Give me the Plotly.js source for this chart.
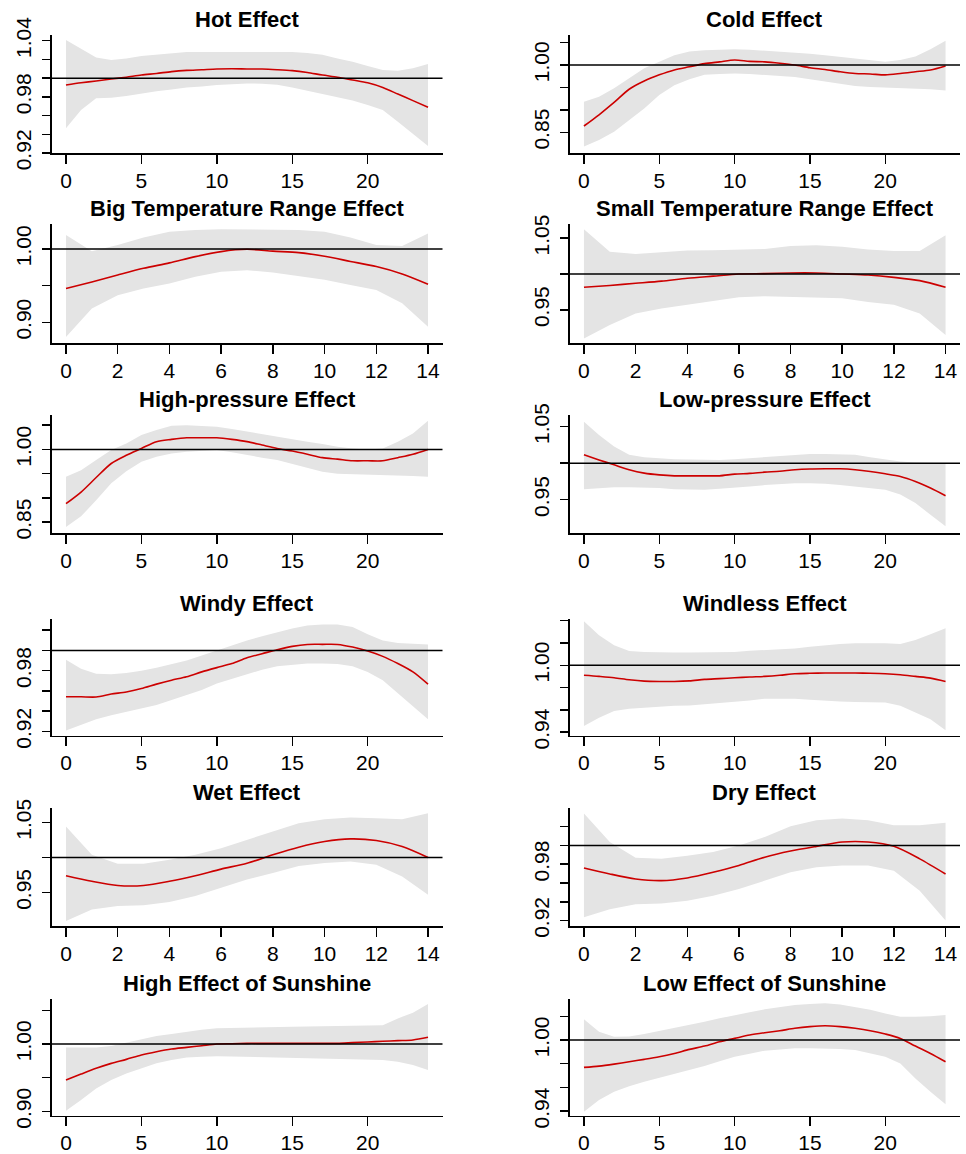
<!DOCTYPE html>
<html>
<head>
<meta charset="utf-8">
<script src="https://cdn.plot.ly/plotly-3.0.1.min.js"></script>
<style>html,body{margin:0;padding:0;background:#fff;}#chart{width:966px;height:1154px;}</style>
</head>
<body>
<div id="chart"></div>
<script>
// ---------------- data ----------------
const lagLong = [0,1,2,3,4,5,6,7,8,9,10,11,12,13,14,15,16,17,18,19,20,21,22,23,24];
const lagShort = [0,1,2,3,4,5,6,7,8,9,10,11,12,13,14];
const xTicksLong = [0,5,10,15,20];
const xTicksShort = [0,2,4,6,8,10,12,14];

const titles = ["Hot Effect","Cold Effect","Big Temperature Range Effect","Small Temperature Range Effect",
  "High-pressure Effect","Low-pressure Effect","Windy Effect","Windless Effect",
  "Wet Effect","Dry Effect","High Effect of Sunshine","Low Effect of Sunshine"];

// Hot
const hotFit  = [0.9927,0.995,0.997,0.999,1.001,1.0033,1.005,1.007,1.0083,1.009,1.0098,1.0100,1.0098,1.0097,1.009,1.008,1.006,1.0033,1.001,0.998,0.995,0.990,0.983,0.976,0.969];
const hotHigh = [1.0408,1.031,1.022,1.0195,1.021,1.0236,1.025,1.027,1.028,1.028,1.028,1.028,1.028,1.028,1.028,1.028,1.027,1.025,1.021,1.0176,1.013,1.0087,1.008,1.0105,1.015];
const hotLow  = [0.9465,0.966,0.9785,0.979,0.981,0.9838,0.986,0.988,0.990,0.991,0.9927,0.9935,0.9944,0.994,0.993,0.990,0.9867,0.983,0.980,0.976,0.9713,0.966,0.9535,0.941,0.9275];
// Cold
const coldFit  = [0.864,0.889,0.9165,0.946,0.9643,0.978,0.989,0.996,1.003,1.007,1.011,1.008,1.007,1.004,1.000,0.994,0.990,0.985,0.981,0.980,0.978,0.981,0.985,0.989,0.998];
const coldHigh = [0.918,0.929,0.948,0.970,0.993,1.007,1.022,1.030,1.033,1.034,1.035,1.034,1.032,1.030,1.027,1.025,1.022,1.018,1.015,1.010,1.007,1.011,1.019,1.035,1.054];
const coldLow  = [0.818,0.833,0.851,0.877,0.903,0.933,0.955,0.968,0.978,0.980,0.981,0.980,0.978,0.976,0.973,0.968,0.963,0.958,0.953,0.951,0.950,0.949,0.948,0.946,0.943];
// Big temperature range
const bigFit  = [0.946,0.955,0.9645,0.9736,0.981,0.9895,0.9964,0.9995,0.997,0.995,0.990,0.983,0.976,0.966,0.952];
const bigHigh = [1.019,0.997,1.0055,1.0155,1.0236,1.026,1.027,1.027,1.027,1.026,1.0236,1.0155,1.0055,1.004,1.021];
const bigLow  = [0.880,0.919,0.937,0.946,0.953,0.962,0.969,0.971,0.968,0.963,0.958,0.951,0.944,0.926,0.894];
// Small temperature range
const smallFit  = [0.9814,0.984,0.987,0.990,0.994,0.997,1.0,1.0005,1.0014,1.0014,1.0,0.9985,0.9953,0.9907,0.9814];
const smallHigh = [1.0623,1.031,1.028,1.030,1.0326,1.033,1.0335,1.035,1.039,1.040,1.038,1.034,1.032,1.032,1.054];
const smallLow  = [0.910,0.929,0.945,0.952,0.957,0.962,0.9674,0.969,0.968,0.967,0.966,0.961,0.957,0.945,0.915];
// High pressure
const hpFit  = [0.888,0.912,0.942,0.971,0.988,1.002,1.016,1.0207,1.024,1.024,1.024,1.0207,1.016,1.009,1.002,0.9966,0.990,0.983,0.980,0.9766,0.9766,0.9766,0.983,0.990,1.0];
const hpHigh = [0.9434,0.957,0.978,0.9986,1.0124,1.0297,1.040,1.049,1.050,1.049,1.047,1.042,1.0366,1.031,1.026,1.021,1.016,1.011,1.0055,1.002,1.0,1.002,1.016,1.033,1.059];
const hpLow  = [0.840,0.862,0.895,0.930,0.955,0.9745,0.985,0.9917,0.995,0.997,0.9986,0.994,0.988,0.983,0.978,0.970,0.9628,0.9538,0.950,0.949,0.949,0.948,0.947,0.945,0.9434];
// Low pressure
const lpFit  = [1.0114,1.0045,0.9977,0.991,0.9864,0.984,0.9827,0.9827,0.9827,0.9827,0.985,0.986,0.9877,0.989,0.991,0.992,0.9923,0.9923,0.991,0.9886,0.9855,0.9818,0.975,0.966,0.9555];
const lpHigh = [1.0568,1.0386,1.0227,1.0114,1.008,1.0065,1.0055,1.005,1.0045,1.0045,1.0055,1.007,1.008,1.010,1.0114,1.0125,1.0127,1.0125,1.0114,1.008,1.0055,1.0023,1.001,1.0,1.0];
const lpLow  = [0.9645,0.966,0.967,0.967,0.967,0.966,0.9645,0.964,0.9636,0.965,0.966,0.968,0.970,0.971,0.9727,0.9725,0.972,0.970,0.968,0.966,0.9636,0.957,0.9455,0.9295,0.9136];
// Windy
const windyFit  = [0.9542,0.9542,0.954,0.9569,0.959,0.9624,0.9667,0.9706,0.974,0.9788,0.983,0.987,0.9928,0.9967,1.0007,1.004,1.0059,1.006,1.0059,1.0033,0.9993,0.9941,0.987,0.9788,0.9667];
const windyHigh = [0.9908,0.982,0.977,0.9765,0.9778,0.980,0.983,0.9865,0.990,0.995,1.0,1.005,1.0098,1.014,1.018,1.0215,1.0245,1.0255,1.0255,1.023,1.016,1.0098,1.0072,1.0065,1.0059];
const windyLow  = [0.921,0.9265,0.932,0.936,0.9395,0.943,0.946,0.951,0.9559,0.961,0.9673,0.972,0.977,0.981,0.9843,0.986,0.987,0.987,0.9865,0.9843,0.9788,0.9706,0.9575,0.9444,0.932];
// Windless
const calmFit  = [0.991,0.990,0.9888,0.987,0.9858,0.9855,0.9855,0.986,0.9873,0.988,0.9888,0.9895,0.990,0.991,0.9924,0.9928,0.993,0.993,0.993,0.9928,0.9924,0.9915,0.990,0.9885,0.9855];
const calmHigh = [1.0394,1.027,1.018,1.0127,1.012,1.0115,1.0115,1.0115,1.0115,1.0118,1.012,1.013,1.0136,1.014,1.015,1.0165,1.018,1.019,1.0197,1.0197,1.0197,1.019,1.0227,1.0279,1.0333];
const calmLow  = [0.9455,0.953,0.959,0.961,0.962,0.963,0.9636,0.964,0.965,0.966,0.967,0.9685,0.970,0.970,0.970,0.969,0.968,0.9675,0.967,0.967,0.9667,0.9636,0.9576,0.9515,0.9418];
// Wet
const wetFit  = [0.974,0.966,0.960,0.960,0.966,0.974,0.9834,0.9918,1.0038,1.0147,1.0227,1.0265,1.0242,1.0156,1.0];
const wetHigh = [1.044,1.0038,0.991,0.991,0.9967,1.0038,1.0133,1.025,1.037,1.0488,1.0545,1.057,1.056,1.0545,1.063];
const wetLow  = [0.9094,0.926,0.931,0.932,0.9365,0.945,0.957,0.9687,0.978,0.9877,0.992,0.9943,0.9896,0.973,0.947];
// Dry
const dryFit  = [0.976,0.9696,0.9643,0.9625,0.9654,0.9714,0.9786,0.9875,0.994,0.999,1.0036,1.0036,0.999,0.9857,0.9696];
const dryHigh = [1.034,1.0036,0.9868,0.9857,0.989,0.9929,1.0,1.009,1.0204,1.0268,1.0286,1.0268,1.0214,1.0214,1.024];
const dryLow  = [0.9236,0.932,0.9375,0.9382,0.941,0.9464,0.9536,0.9625,0.9714,0.9768,0.9786,0.9786,0.973,0.9518,0.92];
// High sunshine
const sunHiFit  = [0.9465,0.9554,0.9639,0.9713,0.9772,0.9837,0.9886,0.9926,0.995,0.9975,1.0,1.0005,1.001,1.001,1.001,1.001,1.001,1.001,1.001,1.002,1.003,1.004,1.005,1.006,1.0099];
const sunHiHigh = [0.995,0.995,0.995,0.997,1.002,1.0069,1.0119,1.015,1.0183,1.021,1.0233,1.024,1.0243,1.025,1.0255,1.0257,1.026,1.0265,1.0267,1.027,1.027,1.028,1.038,1.0465,1.0594];
const sunHiLow  = [0.901,0.9168,0.934,0.9465,0.9564,0.9639,0.9713,0.9762,0.980,0.981,0.982,0.9815,0.981,0.9805,0.980,0.980,0.9795,0.979,0.9787,0.978,0.9772,0.9762,0.9738,0.969,0.9614];
// Low sunshine
const sunLoFit  = [0.9769,0.978,0.9797,0.9817,0.9837,0.9859,0.9887,0.9921,0.9949,0.9986,1.0014,1.0042,1.0062,1.0079,1.0099,1.0113,1.0121,1.0113,1.0099,1.0079,1.0051,1.0014,0.9949,0.9887,0.9817];
const sunLoHigh = [1.0175,1.007,1.0028,1.003,1.005,1.0075,1.0099,1.0127,1.0155,1.0183,1.0211,1.0235,1.0259,1.028,1.0296,1.0305,1.031,1.030,1.028,1.0255,1.0225,1.0197,1.0197,1.020,1.0211];
const sunLoLow  = [0.9394,0.9493,0.9563,0.961,0.9648,0.968,0.9718,0.975,0.978,0.982,0.9859,0.9885,0.991,0.992,0.993,0.993,0.993,0.9925,0.9915,0.989,0.9859,0.9803,0.9676,0.9563,0.9459];

// y tick values and their printed labels ('' = tick without label)
const yTickVals = [
  [0.92,0.94,0.96,0.98,1.00,1.02,1.04],
  [0.85,0.90,0.95,1.00,1.05],
  [0.90,0.95,1.00],
  [0.95,1.00,1.05],
  [0.85,0.90,0.95,1.00,1.05],
  [0.95,1.00,1.05],
  [0.92,0.94,0.96,0.98,1.00,1.02],
  [0.94,0.96,0.98,1.00,1.02,1.04],
  [0.95,1.00,1.05],
  [0.92,0.94,0.96,0.98,1.00,1.02],
  [0.90,0.95,1.00,1.05],
  [0.94,0.96,0.98,1.00,1.02]
];
const yTickText = [
  ["0.92","","","0.98","","","1.04"],
  ["0.85","","","1.00",""],
  ["0.90","","1.00"],
  ["0.95","","1.05"],
  ["0.85","","","1.00",""],
  ["0.95","","1.05"],
  ["0.92","","","0.98","",""],
  ["0.94","","","1.00","",""],
  ["0.95","","1.05"],
  ["0.92","","","0.98","",""],
  ["0.90","","1.00",""],
  ["0.94","","","1.00",""]
];

const series = [
  [lagLong, hotFit, hotLow, hotHigh],
  [lagLong, coldFit, coldLow, coldHigh],
  [lagShort, bigFit, bigLow, bigHigh],
  [lagShort, smallFit, smallLow, smallHigh],
  [lagLong, hpFit, hpLow, hpHigh],
  [lagLong, lpFit, lpLow, lpHigh],
  [lagLong, windyFit, windyLow, windyHigh],
  [lagLong, calmFit, calmLow, calmHigh],
  [lagShort, wetFit, wetLow, wetHigh],
  [lagShort, dryFit, dryLow, dryHigh],
  [lagLong, sunHiFit, sunHiLow, sunHiHigh],
  [lagLong, sunLoFit, sunLoLow, sunLoHigh]
];

// ---------------- layout ----------------
const W = 966, H = 1154;
const yRanges = [
  [0.9197,1.0461],[0.8031,1.0669],
  [0.8714,1.0336],[0.9033,1.0693],
  [0.8276,1.0710],[0.9045,1.0659],
  [0.9160,1.0310],[0.9370,1.0415],
  [0.9019,1.0701],[0.9139,1.0395],
  [0.8940,1.0663],[0.9363,1.0344]
];
const colPx = [[51.5,442.5],[569.5,960]];
const rowPx = [[35,153.3],[224.3,343.3],[415,533],[619,735.5],[808.3,926.3],[999.3,1115.5]];

const FONT = "Liberation Sans, Arial, sans-serif";
const traces = [];
const layout = {
  width: W, height: H, autosize: false,
  margin: {l:0, r:0, t:0, b:0},
  paper_bgcolor: "#ffffff", plot_bgcolor: "#ffffff",
  showlegend: false,
  font: {family: FONT, color: "#000", size: 21},
  shapes: [], annotations: []
};

for (let i = 0; i < 12; i++) {
  const [xs, fit, lo, hi] = series[i];
  const ax = i === 0 ? "" : String(i + 1);
  const xa = "x" + ax, ya = "y" + ax;
  const col = i % 2, row = Math.floor(i / 2);
  const isLong = xs.length > 15;

  traces.push({x: xs, y: lo, xaxis: xa, yaxis: ya, type: "scatter", mode: "lines",
    line: {width: 0, color: "rgba(0,0,0,0)"}, hoverinfo: "skip"});
  traces.push({x: xs, y: hi, xaxis: xa, yaxis: ya, type: "scatter", mode: "lines",
    fill: "tonexty", fillcolor: "#e4e4e4", line: {width: 0, color: "rgba(0,0,0,0)"}, hoverinfo: "skip"});
  traces.push({x: xs, y: fit, xaxis: xa, yaxis: ya, type: "scatter", mode: "lines",
    line: {color: "#cc0000", width: 1.6, shape: "spline", smoothing: 0.8}});

  const xd = [colPx[col][0] / W, colPx[col][1] / W];
  const yd = [1 - rowPx[row][1] / H, 1 - rowPx[row][0] / H];
  const xmax = isLong ? 24 : 14;
  const pad = xmax * 0.04;

  layout["xaxis" + ax] = {
    domain: xd, anchor: ya, range: [-pad, xmax + pad],
    tickmode: "array", tickvals: isLong ? xTicksLong : xTicksShort,
    ticks: "outside", ticklen: 9, tickwidth: 1.5, tickcolor: "#000",
    ticklabelstandoff: -1,
    showline: true, linecolor: "#000", linewidth: 1.5,
    showgrid: false, zeroline: false, fixedrange: true,
    tickfont: {family: FONT, size: 21, color: "#000"}
  };
  layout["yaxis" + ax] = {
    domain: yd, anchor: xa, range: yRanges[i],
    tickmode: "array", tickvals: yTickVals[i], ticktext: yTickText[i],
    ticks: "outside", ticklen: 8, tickwidth: 1.5, tickcolor: "#000", tickangle: -90,
    ticklabelstandoff: 3,
    showline: true, linecolor: "#000", linewidth: 1.5,
    showgrid: false, zeroline: false, fixedrange: true,
    tickfont: {family: FONT, size: 21, color: "#000"}
  };
  layout.shapes.push({type: "line", xref: xa + " domain", yref: ya,
    x0: 0, x1: 1, y0: 1, y1: 1, layer: "above", line: {color: "#000", width: 1.5}});
  layout.annotations.push({text: "<b>" + titles[i] + "</b>", xref: "paper", yref: "paper",
    x: (xd[0] + xd[1]) / 2, y: 1 - (rowPx[row][0] - 15.5) / H,
    xanchor: "center", yanchor: "middle", showarrow: false,
    font: {family: FONT, size: 22, color: "#000"}});
}

Plotly.newPlot("chart", traces, layout, {staticPlot: true, displayModeBar: false});
</script>
</body>
</html>
